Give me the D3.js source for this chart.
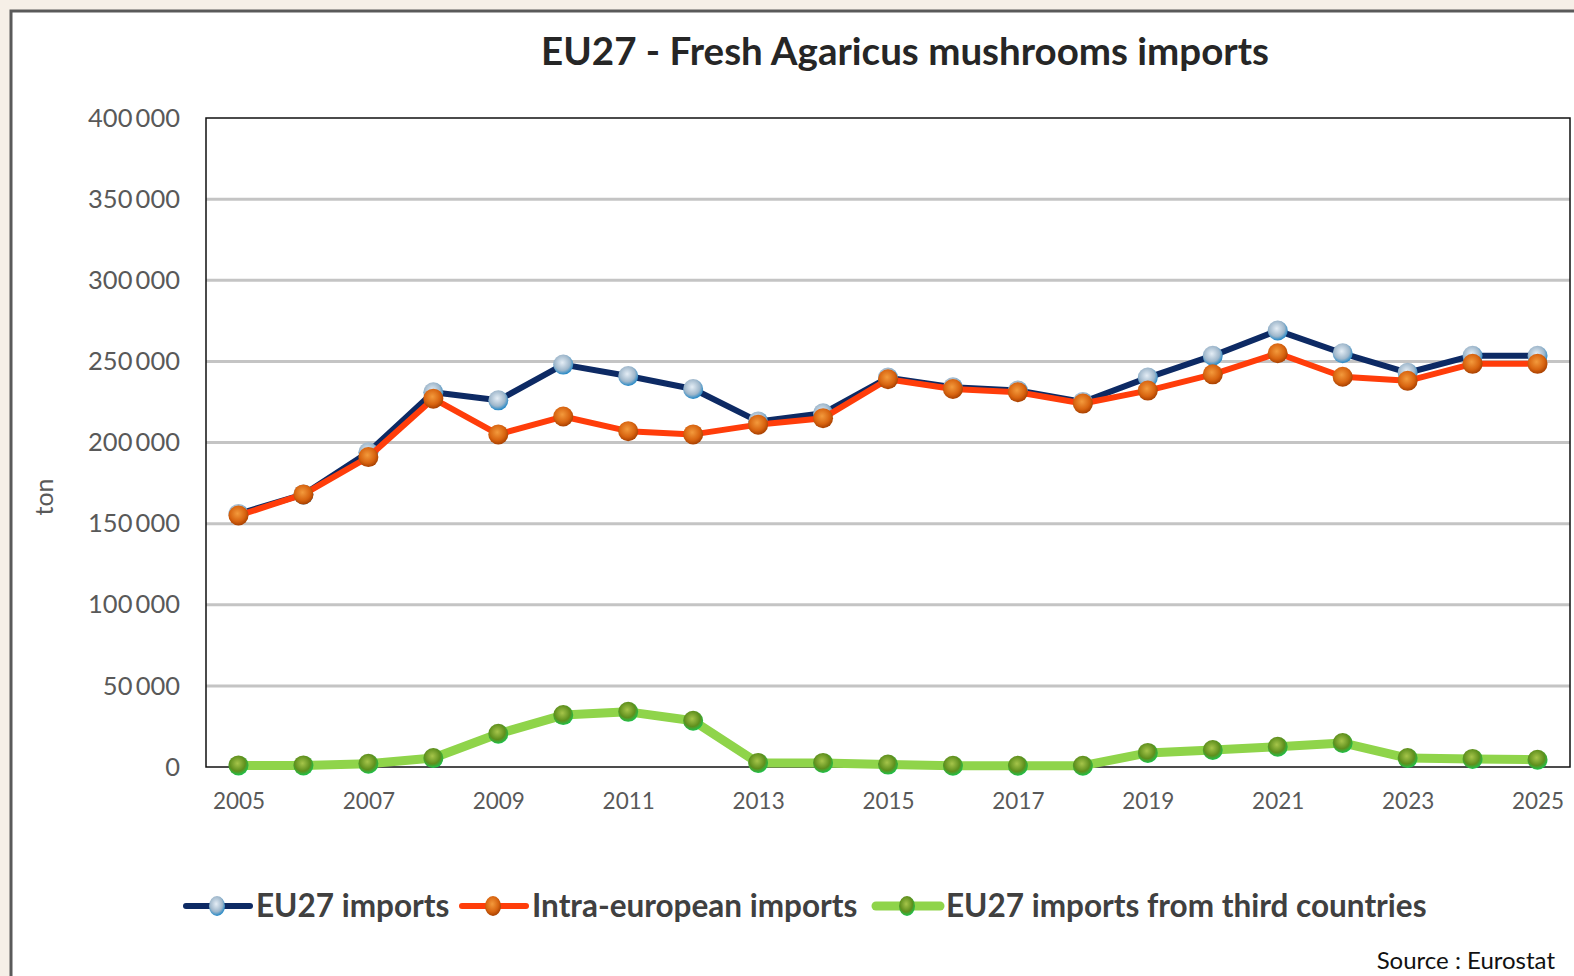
<!DOCTYPE html>
<html>
<head>
<meta charset="utf-8">
<script src="https://cdn.jsdelivr.net/npm/d3@7"></script>
<style>
  html, body { margin: 0; padding: 0; background: #f6efe7; }
  svg { display: block; font-family: Lato, "Open Sans", sans-serif; }
</style>
</head>
<body>
<svg id="chart" width="1574" height="976"></svg>
<script>
// years on the category axis
const years = d3.range(2005, 2026);
const yTicks = [0, 50000, 100000, 150000, 200000, 250000, 300000, 350000, 400000];

// values in tons
const eu27Imports = [156000, 168000, 194000, 231000, 226000, 248000, 241000, 233000, 213000, 218000,
  240000, 234000, 232000, 225000, 240000, 253500, 269000, 255000, 243000, 253500, 253500];
const intraImports = [155000, 168000, 191000, 227000, 205000, 216000, 207000, 205000, 211000, 215000,
  239000, 233000, 231000, 224000, 232000, 242000, 255000, 240500, 238000, 248500, 248500];
const thirdCountries = [1000, 1000, 2000, 5500, 20500, 32000, 34000, 28500, 2500, 2500,
  1500, 800, 800, 800, 8700, 10500, 12500, 14800, 5500, 5000, 4500];

const series = [
  { name: "EU27 imports", values: eu27Imports, line: "#0d2a64", width: 6,
    grad: ["#e4edf5", "#9fb7cb", "#1f86c6"] },
  { name: "Intra-european imports", values: intraImports, line: "#ff3d0a", width: 6,
    grad: ["#f39a3c", "#d86410", "#a84000"] },
  { name: "EU27 imports from third countries", values: thirdCountries, line: "#8fd44a", width: 9,
    grad: ["#a6c54a", "#5f8f1d", "#1ec24a"] }
];

const margin = { top: 118, right: 4, bottom: 209, left: 206 };
const W = 1574, H = 976;

const svg = d3.select("#chart");

// white card with frame on the beige page
svg.append("rect").attr("x", 11).attr("y", 11).attr("width", W).attr("height", H)
  .attr("fill", "#fff").attr("stroke", "#5a5a5a").attr("stroke-width", 3);

const defs = svg.append("defs");
series.forEach((s, i) => {
  const g = defs.append("radialGradient").attr("id", "grad" + i)
    .attr("cx", "45%").attr("cy", "40%").attr("r", "60%");
  g.append("stop").attr("offset", "0%").attr("stop-color", s.grad[0]);
  g.append("stop").attr("offset", "65%").attr("stop-color", s.grad[1]);
  g.append("stop").attr("offset", "100%").attr("stop-color", s.grad[2]);
});

const x = d3.scalePoint().domain(years)
  .range([margin.left, W - margin.right]).padding(0.5);
const y = d3.scaleLinear().domain([0, 400000])
  .range([H - margin.bottom, margin.top]);

// gridlines
svg.append("g")
  .selectAll("line")
  .data(yTicks.filter(d => d > 0 && d < 400000))
  .enter().append("line")
    .attr("x1", margin.left).attr("x2", W - margin.right)
    .attr("y1", d => y(d)).attr("y2", d => y(d))
    .attr("stroke", "#c4c4c4").attr("stroke-width", 3);

// plot border
svg.append("rect")
  .attr("x", margin.left).attr("y", margin.top)
  .attr("width", W - margin.right - margin.left)
  .attr("height", y(0) - margin.top)
  .attr("fill", "none").attr("stroke", "#111").attr("stroke-width", 1.5);

// y axis labels
const fmt = d => d3.format(",")(d).replace(/,/g, "\u2009");
svg.append("g")
  .attr("transform", `translate(${margin.left},0)`)
  .call(d3.axisLeft(y).tickValues(yTicks).tickSize(0).tickPadding(26).tickFormat(fmt))
  .call(g => g.select(".domain").remove())
  .call(g => g.selectAll("text").attr("fill", "#595959")
    .style("font-size", "25.5px").style("font-family", "Lato, sans-serif"));

// x axis labels
svg.append("g")
  .attr("transform", `translate(0,${y(0)})`)
  .call(d3.axisBottom(x).tickValues(years.filter(d => d % 2 === 1)).tickSize(0).tickPadding(26))
  .call(g => g.select(".domain").remove())
  .call(g => g.selectAll("text").attr("fill", "#595959")
    .style("font-size", "22.5px").style("font-family", "Lato, sans-serif"));

// lines and markers, in series order so later ones sit on top
const line = d3.line().x((d, i) => x(years[i])).y(d => y(d));
series.forEach((s, i) => {
  svg.append("path").datum(s.values)
    .attr("d", line).attr("fill", "none")
    .attr("stroke", s.line).attr("stroke-width", s.width)
    .attr("stroke-linejoin", "round");
  svg.append("g").selectAll("circle")
    .data(s.values)
    .enter().append("circle")
      .attr("cx", (d, j) => x(years[j]))
      .attr("cy", d => y(d))
      .attr("r", 10)
      .attr("fill", `url(#grad${i})`);
});

// title
svg.append("text")
  .attr("x", 905).attr("y", 65)
  .attr("text-anchor", "middle")
  .attr("fill", "#262626")
  .style("font-size", "38.5px").style("font-weight", "bold")
  .text("EU27 - Fresh Agaricus mushrooms imports");

// axis title
svg.append("text")
  .attr("transform", "translate(53,497) rotate(-90)")
  .attr("text-anchor", "middle")
  .attr("fill", "#595959")
  .style("font-size", "25px")
  .text("ton");

// legend
const legendX = [186, 462, 876];
const legend = svg.append("g").attr("transform", "translate(0,906)");
series.forEach((s, i) => {
  const g = legend.append("g").attr("transform", `translate(${legendX[i]},0)`);
  g.append("line").attr("x1", 0).attr("x2", 64)
    .attr("stroke", s.line).attr("stroke-width", s.width).attr("stroke-linecap", "round");
  g.append("ellipse").attr("cx", 31).attr("rx", 8).attr("ry", 10)
    .attr("fill", `url(#grad${i})`);
  g.append("text").attr("x", 70).attr("y", 11)
    .attr("fill", "#404040")
    .style("font-size", "31.5px").style("font-weight", "bold")
    .text(s.name);
});

// source
svg.append("text")
  .attr("x", 1555).attr("y", 969)
  .attr("text-anchor", "end")
  .attr("fill", "#111")
  .style("font-size", "24px")
  .text("Source : Eurostat");
</script>
</body>
</html>
